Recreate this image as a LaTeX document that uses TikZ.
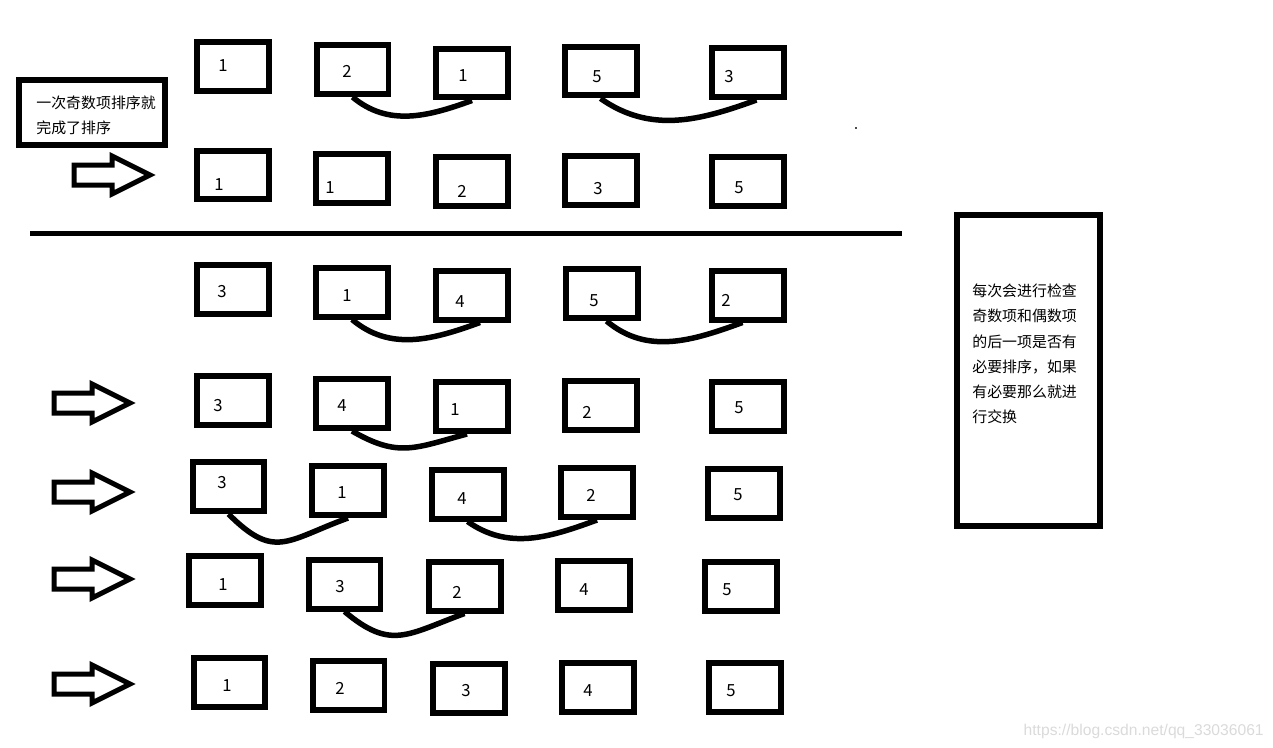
\documentclass[tikz,border=0pt]{standalone}
\usepackage{fontspec}
\newfontfamily\cjk{Noto Sans CJK SC}
\newfontfamily\markfont{Liberation Sans}
\usetikzlibrary{calc}
\definecolor{markgray}{RGB}{218,218,218}

\begin{document}
\begin{tikzpicture}[x=0.02cm, y=-0.02cm,
    cell/.style={draw, line width=0.12cm, minimum width=1.44cm, minimum height=0.98cm, inner sep=0pt},
    digit/.style={font=\cjk\fontsize{9.5pt}{11pt}\selectfont, inner sep=0pt},
    notebox/.style={draw, line width=0.12cm, inner sep=0pt},
    notetext/.style={font=\cjk\fontsize{8.5pt}{14.4pt}\selectfont, align=left, inner sep=0pt, anchor=west},
    swapline/.style={line width=0.11cm},
    hollowarrow/.style={line width=0.1cm, line join=miter}]
  \useasboundingbox (0,0) rectangle (1273,747);

  % the five numbers of every step
  \foreach \name/\bx/\by/\tx/\ty/\val in {
    r1a/233/66.5/223/66/1, r1b/352.5/69.5/347/71/2, r1c/472/73/463/76/1,
    r1d/600.5/71/597/77/5, r1e/747.5/72.5/729/77/3,
    r2a/233/175/219/185/1, r2b/352/178.5/330/188/1, r2c/472/181.5/462/191/2,
    r2d/600.5/180.5/598/189/3, r2e/747.5/181.5/739/188/5,
    r3a/233/289/222/292/3, r3b/352/292/347/296/1, r3c/472/295/460/302/4,
    r3d/601.5/293.5/594/301/5, r3e/747.5/295/726/300/2,
    r4a/233/400/218/406/3, r4b/352/403.5/342/406/4, r4c/472/406.5/455/410/1,
    r4d/600.5/405/587/412/2, r4e/747.5/406.5/739/408/5,
    r5a/228.5/486.5/222/483/3, r5b/348/490.5/342/493/1, r5c/467.5/494/462/499/4,
    r5d/597/492.5/591/495/2, r5e/743.5/493.5/738/495/5,
    r6a/225/580/223/585/1, r6b/344.5/584/340/587/3, r6c/464.5/586/457/592/2,
    r6d/594/585.5/584/590/4, r6e/741/586/727/590/5,
    r7a/229.5/682/227/686/1, r7b/348.5/685/340/688/2, r7c/468.5/688/466/691/3,
    r7d/597.5/687/588/691/4, r7e/744.5/687/731/691/5
  }{
    \node[cell] (\name) at (\bx,\by) {};
    \node[digit] (\name-val) at (\tx,\ty) {\val};
  }

  % swaps
  \draw[swapline] (r1b.south) to[out=-40,in=-160] (r1c.south);
  \draw[swapline] (r1d.south) to[out=-35,in=-160] ($(r1e.south)+(9,0)$);
  \draw[swapline] (r3b.south) to[out=-40,in=-160] ($(r3c.south)+(8,0)$);
  \draw[swapline] ($(r3d.south)+(5,0)$) to[out=-40,in=-160] ($(r3e.south)+(-5,0)$);
  \draw[swapline] (r4b.south) to[out=-30,in=-165,looseness=1.2] ($(r4c.south)+(-5,0)$);
  \draw[swapline] (r5a.south) to[out=-45,in=-160,looseness=1.4] (r5b.south);
  \draw[swapline] (r5c.south) to[out=-35,in=-160] (r5d.south);
  \draw[swapline] (r6b.south) to[out=-40,in=-160,looseness=1.3] (r6c.south);

  % step arrows
  \foreach \x/\y in {74/175, 54/403, 54/492, 54/579, 54/684}{
    \draw[hollowarrow] (\x,\y-10) -- ++(38,0) -- ++(0,-9) -- ++(38,19)
      -- ++(-38,19) -- ++(0,-9) -- ++(-38,0) -- cycle;
  }

  \draw[line width=0.1cm] (30,233) -- (902,233);
  \fill[black!70] (855,127) rectangle (857,129);

  % notes
  \node[notebox, minimum width=2.94cm, minimum height=1.32cm] (oddnote) at (92,112.5) {};
  \node[notetext] (oddtext) at (36,115.5) {一次奇数项排序就\\完成了排序};
  \node[notebox, minimum width=2.86cm, minimum height=6.24cm] (rulenote) at (1028,370.5) {};
  \node[notetext] (ruletext) at (972,354) {每次会进行检查\\奇数项和偶数项\\的后一项是否有\\必要排序，如果\\有必要那么就进\\行交换};

  \node[font=\markfont\fontsize{8.9pt}{10pt}\selectfont, text=markgray, anchor=base east, inner sep=0pt] (credit) at (1264,735) {https://blog.csdn.net/qq\_33036061};
\end{tikzpicture}
\end{document}
